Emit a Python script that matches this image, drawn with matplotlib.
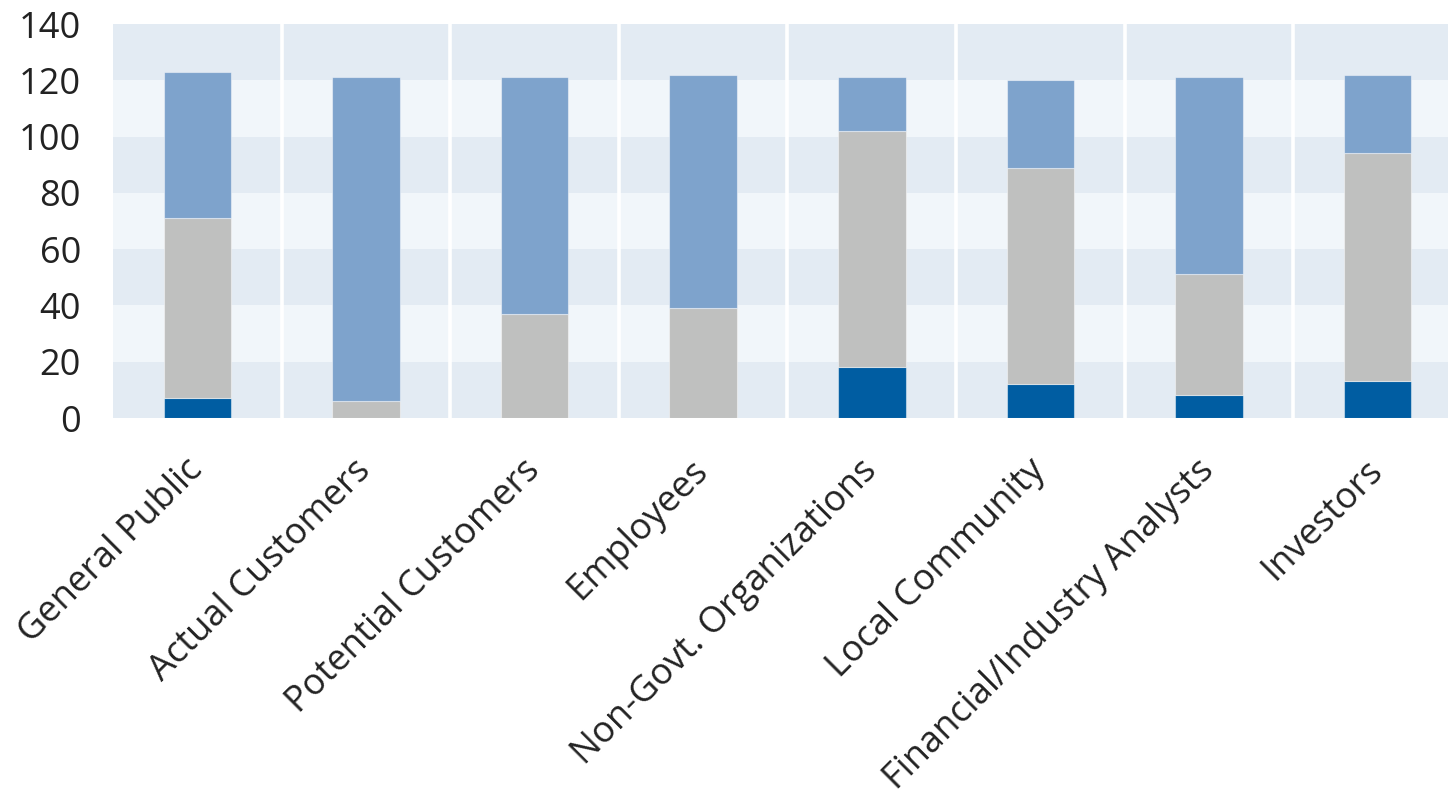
import matplotlib.pyplot as plt
import numpy as np

# stakeholder groups and the three stacked segments per group
groups = ["General Public", "Actual Customers", "Potential Customers", "Employees",
          "Non-Govt. Organizations", "Local Community", "Financial/Industry Analysts",
          "Investors"]
bottom_vals = [7, 0, 0, 0, 18, 12, 8, 13]
middle_vals = [64, 6, 37, 39, 84, 77, 43, 81]
top_vals = [52, 115, 84, 83, 19, 31, 70, 28]
y_ticks = [0, 20, 40, 60, 80, 100, 120, 140]

DARK = "#005DA2"
GREY = "#BFC0BF"
LIGHT = "#7EA3CC"
BAND_DARK = "#E3EBF3"
BAND_LIGHT = "#F1F6FA"

plt.rcParams['font.family'] = ['Open Sans', 'DejaVu Sans']

fig = plt.figure(figsize=(14.48, 7.94), dpi=100)
ax = fig.add_axes([113 / 1448, 376 / 794, 1335 / 1448, 394 / 794])

# alternating horizontal bands behind the bars
ax.set_facecolor(BAND_LIGHT)
for lo in range(0, 140, 40):
  ax.axhspan(lo, lo + 20, color=BAND_DARK, lw=0, zorder=0)

# white dividers between groups
for xv in np.arange(0.5, len(groups) - 1, 1.0):
  ax.axvline(xv, color="white", lw=2.6, zorder=1)

x = np.arange(len(groups))
b = np.array(bottom_vals)
m = np.array(middle_vals)
t = np.array(top_vals)
kw = dict(width=0.4, edgecolor=(1, 1, 1, 0.45), linewidth=0.8, zorder=2)
ax.bar(x, b, color=DARK, **kw)
ax.bar(x, m, bottom=b, color=GREY, **kw)
ax.bar(x, t, bottom=b + m, color=LIGHT, **kw)

ax.set_ylim(0, 140)
ax.set_xlim(-0.5, 7.417)
ax.set_yticks(y_ticks)
ax.set_yticklabels([str(v) for v in y_ticks], fontsize=26, color="#222222",
                   fontweight="medium")
ax.set_xticks(x)
ax.set_xticklabels(groups, rotation=45, ha="right", va="center",
                   rotation_mode="anchor", fontsize=26, color="#222222")
ax.tick_params(axis="y", length=0, pad=23)
ax.tick_params(axis="x", length=0, pad=34)
for s in ax.spines.values():
  s.set_visible(False)

fig.savefig("out.png", dpi=100)
